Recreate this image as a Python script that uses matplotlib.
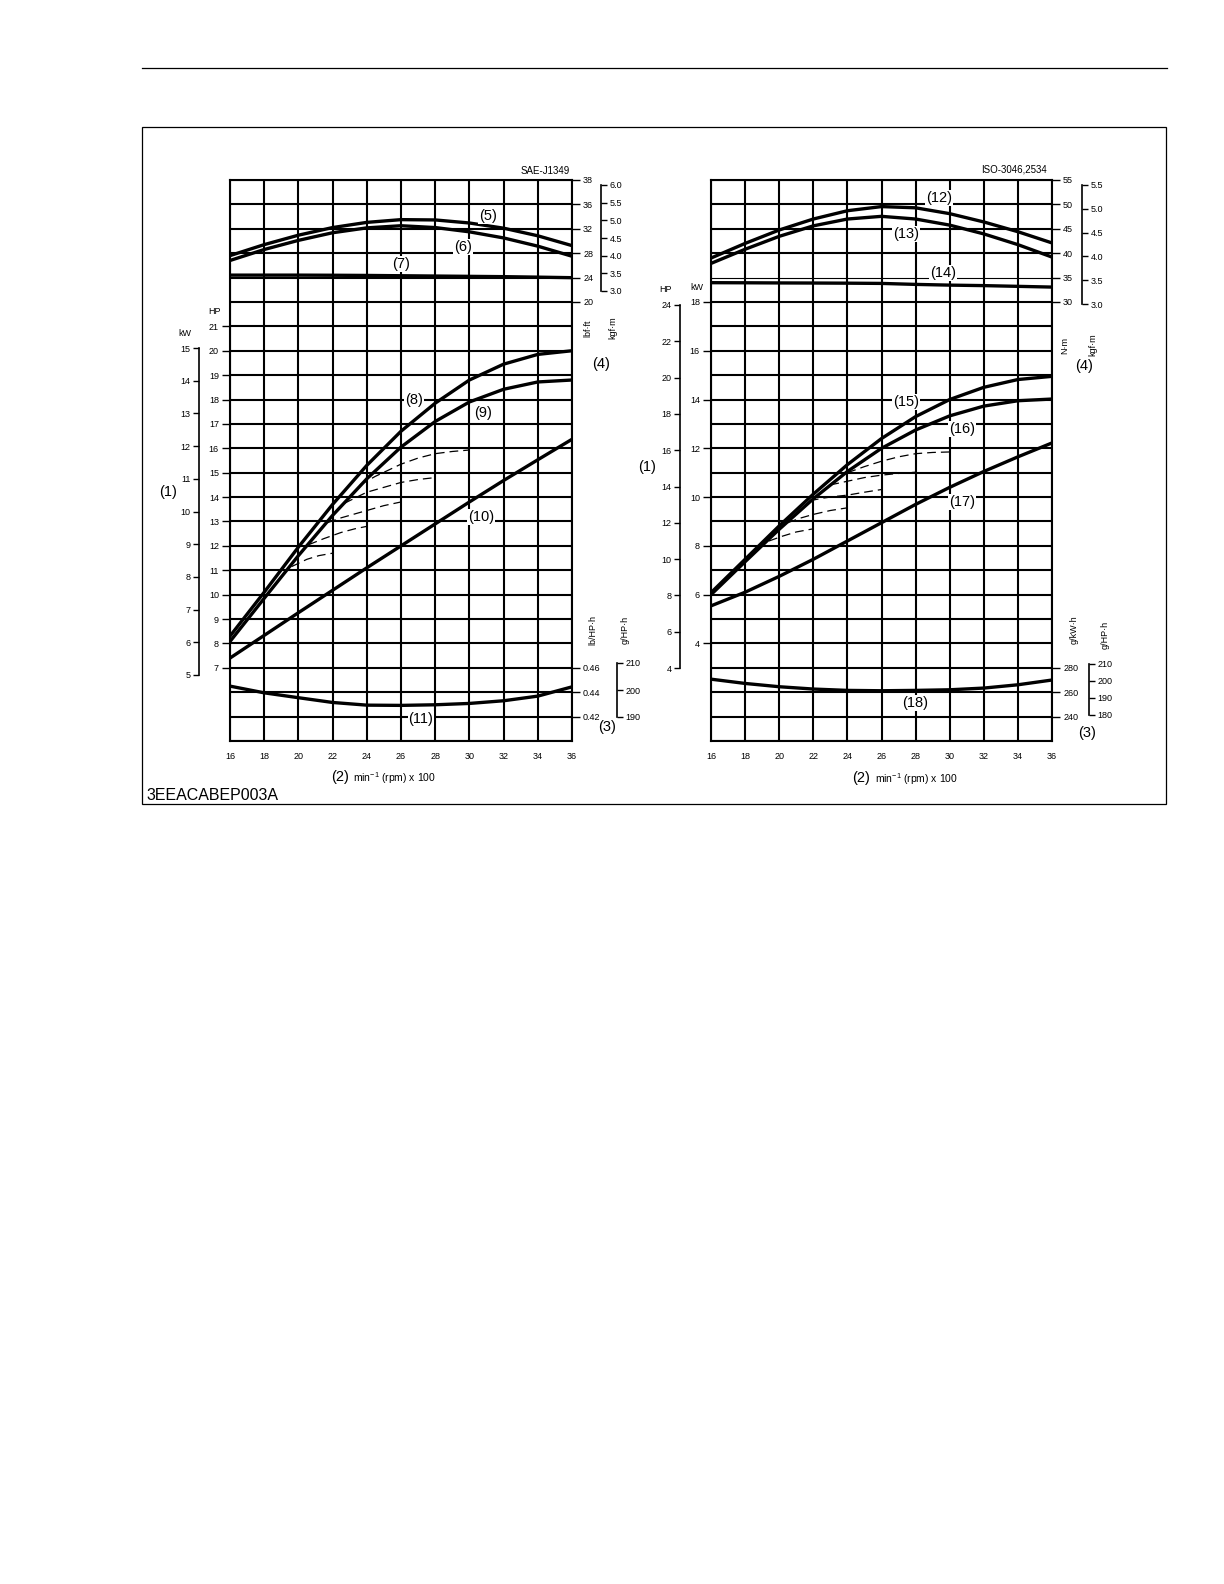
import matplotlib
matplotlib.use("Agg")
import matplotlib.pyplot as plt
from matplotlib.patches import Rectangle
from matplotlib.lines import Line2D

plt.rcParams['font.family'] = ['Liberation Sans', 'DejaVu Sans']
plt.rcParams['mathtext.fontset'] = 'custom'
plt.rcParams['mathtext.rm'] = 'Liberation Sans'

W, H = 1224, 1584

# ---- data ----
rpm = [16, 18, 20, 22, 24, 26, 28, 30, 32, 34, 36]

# SAE-J1349 (left chart)
torque5_lbf = [27.6, 29.4, 30.95, 32.2, 33.05, 33.5, 33.45, 32.95, 32.1, 30.85, 29.24]
torque6_lbf = [26.8, 28.6, 30.1, 31.35, 32.15, 32.5, 32.2, 31.5, 30.5, 29.15, 27.5]
torque7_lbf = [24.4, 24.4, 24.4, 24.38, 24.35, 24.3, 24.25, 24.2, 24.15, 24.07, 23.98]
power8_hp = [8.3, 10.1, 11.95, 13.7, 15.3, 16.7, 17.85, 18.8, 19.45, 19.85, 20.0]
power9_hp = [8.08, 9.85, 11.6, 13.25, 14.75, 16.05, 17.1, 17.9, 18.42, 18.72, 18.8]
power10_hp = [7.4, 8.33, 9.26, 10.18, 11.1, 12.0, 12.9, 13.8, 14.68, 15.53, 16.37]
fuel11_lb = [0.445, 0.4395, 0.4355, 0.4316, 0.4294, 0.4292, 0.4297, 0.4308, 0.433, 0.4368, 0.4444]
# governor (dashed) branches, rpm x100 and HP
dash_left = [
    ([19.6, 20.5, 21.2, 22.0], [11.15, 11.45, 11.6, 11.7]),
    ([20.6, 21.5, 22.5, 23.3, 24.0], [12.05, 12.3, 12.55, 12.7, 12.8]),
    ([21.7, 22.5, 24.0, 25.0, 26.0], [12.95, 13.15, 13.45, 13.65, 13.8]),
    ([22.7, 24.0, 25.0, 26.0, 27.0, 28.0], [13.75, 14.2, 14.4, 14.6, 14.72, 14.8]),
    ([23.6, 24.5, 26.0, 27.0, 28.0, 29.0, 30.0], [14.5, 14.85, 15.35, 15.6, 15.78, 15.87, 15.93]),
]

# ISO-3046,2534 (right chart)
torque12_nm = [39.0, 42.0, 44.75, 47.0, 48.7, 49.55, 49.3, 48.1, 46.4, 44.4, 42.1]
torque13_nm = [37.9, 40.8, 43.45, 45.6, 47.0, 47.55, 47.0, 45.75, 43.95, 41.75, 39.2]
torque14_nm = [33.95, 33.93, 33.9, 33.88, 33.85, 33.8, 33.6, 33.45, 33.35, 33.2, 33.05]
power15_kw = [6.08, 7.45, 8.82, 10.12, 11.33, 12.4, 13.3, 14.0, 14.5, 14.82, 14.95]
power16_kw = [6.0, 7.35, 8.68, 9.93, 11.05, 12.0, 12.75, 13.33, 13.73, 13.95, 14.02]
power17_kw = [5.54, 6.1, 6.75, 7.45, 8.2, 8.95, 9.7, 10.4, 11.05, 11.65, 12.22]
fuel18_g = [270.7, 267.2, 264.5, 262.6, 261.5, 261.2, 261.5, 262.0, 263.4, 266.1, 270.0]
dash_right = [
    ([19.4, 20.2, 21.0, 22.0], [8.2, 8.4, 8.57, 8.7]),
    ([20.5, 21.3, 22.0, 23.0, 24.0], [8.95, 9.15, 9.29, 9.45, 9.56]),
    ([21.8, 22.5, 23.2, 24.0, 25.0, 26.0], [9.85, 9.95, 10.02, 10.08, 10.2, 10.31]),
    ([23.0, 24.0, 25.0, 26.0, 27.0, 28.0], [10.5, 10.65, 10.8, 10.9, 10.97, 11.02]),
    ([24.0, 25.0, 26.0, 27.0, 28.0, 29.0, 30.0], [11.0, 11.25, 11.47, 11.65, 11.78, 11.83, 11.85]),
]

rpm_ticks = list(range(16, 37, 2))
hp_ticks_left = list(range(7, 22))
kw_ticks_left = list(range(5, 16))
lbf_ticks = [20, 24, 28, 32, 36, 40]
lbf_labels = ['20', '24', '28', '32', '36', '38']
kgfm_ticks_left = [3.0, 3.5, 4.0, 4.5, 5.0, 5.5, 6.0]
lbhph_ticks = [0.42, 0.44, 0.46]
ghph_ticks_left = [190, 200, 210]
kw_ticks_right = list(range(4, 19, 2))
hp_ticks_right = list(range(4, 25, 2))
nm_ticks = [30, 35, 40, 45, 50, 55]
kgfm_ticks_right = [3.0, 3.5, 4.0, 4.5, 5.0, 5.5]
gkwh_ticks = [240, 260, 280]
ghph_ticks_right = [180, 190, 200, 210]

fig = plt.figure(figsize=(12.24, 15.84), dpi=100)


def fx(px):
    return px / W


def fy(py):
    return 1 - py / H


def ptext(x, y, s, size=6.5, **kw):
    kw.setdefault('ha', 'center')
    kw.setdefault('va', 'center')
    return fig.text(fx(x), fy(y), s, fontsize=size, **kw)


def curve_label(x, y, s):
    ptext(x, y, s, size=10.5,
          bbox=dict(facecolor='white', edgecolor='none', pad=0.6), zorder=10)


def main_axes(left, right):
    ax = fig.add_axes([fx(left), fy(741), (right - left) / W, (741 - 180) / H])
    ax.set_xlim(16, 36)
    ax.set_ylim(0, 23)
    ax.set_xticks(rpm_ticks)
    ax.set_yticks(range(24))
    ax.grid(True, color='black', lw=1.5)
    ax.tick_params(axis='x', length=0, pad=8, labelsize=6.5)
    for s in ax.spines.values():
        s.set_linewidth(1.5)
    return ax


def hide_grid_ticks(ax):
    # twinx() turns the left ticks back on, so switch them off afterwards
    ax.tick_params(axis='y', left=False, labelleft=False, right=False, labelright=False)


def twin(ax, lo, hi, ticks=None, labels=None, side='right'):
    t = ax.twinx()
    t.set_ylim(lo, hi)
    for s in t.spines.values():
        s.set_visible(False)
    if ticks is None:
        t.set_yticks([])
    else:
        t.set_yticks(ticks)
        if labels is not None:
            t.set_yticklabels(labels)
        on_left = side == 'left'
        t.tick_params(axis='y', left=on_left, labelleft=on_left,
                      right=not on_left, labelright=not on_left,
                      direction='out', length=6, width=1, labelsize=6.5, pad=2)
    return t


def bracket(x, ytop, ybot, lo, hi, ticks, side, fmt='{:g}'):
    b = fig.add_axes([fx(x), fy(ybot), 0.0001, (ybot - ytop) / H])
    b.set_ylim(lo, hi)
    b.set_xticks([])
    b.patch.set_visible(False)
    for k, s in b.spines.items():
        s.set_visible(k == side)
        s.set_linewidth(1.2)
    b.set_yticks(ticks)
    b.set_yticklabels([fmt.format(v) for v in ticks])
    on_left = side == 'left'
    b.tick_params(axis='y', left=on_left, labelleft=on_left,
                  right=not on_left, labelright=not on_left,
                  direction='out', length=4, width=1, labelsize=6.5, pad=2)
    return b


# page rule and frame
fig.add_artist(Line2D([fx(142), fx(1167)], [fy(68), fy(68)], color='black', lw=0.9))
fig.add_artist(Rectangle((fx(142), fy(804)), fx(1166) - fx(142), fy(127) - fy(804),
                         fill=False, lw=0.9, edgecolor='black'))

# ---------------- left chart ----------------
axL = main_axes(230, 572)
pL = twin(axL, 4, 27, hp_ticks_left, side='left')
tL = twin(axL, -52, 40, lbf_ticks, lbf_labels, side='right')
fL = twin(axL, 0.40, 0.86, lbhph_ticks, [f'{v:.2f}' for v in lbhph_ticks], side='right')
hide_grid_ticks(axL)

for y in (torque5_lbf, torque6_lbf, torque7_lbf):
    tL.plot(rpm, y, color='black', lw=2.4, solid_joinstyle='round')
for y in (power8_hp, power9_hp, power10_hp):
    pL.plot(rpm, y, color='black', lw=2.4, solid_joinstyle='round')
for xs, ys in dash_left:
    pL.plot(xs, ys, color='black', lw=0.9, dashes=(7, 4))
fL.plot(rpm, fuel11_lb, color='black', lw=2.4, solid_joinstyle='round')

bracket(199, 348, 675, 5, 15, kw_ticks_left, 'left')
bracket(601, 185, 291, 3.0, 6.0, kgfm_ticks_left, 'right', '{:.1f}')
bracket(617, 663, 717, 190, 210, ghph_ticks_left, 'right')

ptext(545, 171, 'SAE-J1349', size=7)
ptext(215, 312, 'HP', size=6.5)
ptext(185, 333, 'kW', size=6.5)
ptext(168, 492, '(1)', size=10.5)
ptext(588, 328, 'lbf·ft', size=6.5, rotation=90)
ptext(613, 328, 'kgf·m', size=6.5, rotation=90)
ptext(601, 364, '(4)', size=10.5)
ptext(593, 630, 'lb/HP·h', size=6.5, rotation=90)
ptext(625, 630, 'g/HP·h', size=6.5, rotation=90)
ptext(607, 727, '(3)', size=10.5)
ptext(340, 777, '(2)', size=10.5)
ptext(353, 778, r'min$^{\mathregular{-1}}$ (rpm) x 100', size=7.5, ha='left')

curve_label(488, 216, '(5)')
curve_label(463, 247, '(6)')
curve_label(401, 264, '(7)')
curve_label(414, 400, '(8)')
curve_label(483, 413, '(9)')
curve_label(481, 517, '(10)')
curve_label(421, 719, '(11)')

# ---------------- right chart ----------------
axR = main_axes(711, 1052)
# the 35 N·m grid line is drawn thin in the original
axR.get_ygridlines()[19].set_linewidth(0.8)
kR = twin(axR, 0, 23, kw_ticks_right, side='left')
tR = twin(axR, -60, 55, nm_ticks, side='right')
gR = twin(axR, 220, 680, gkwh_ticks, side='right')
hide_grid_ticks(axR)

for y in (torque12_nm, torque13_nm, torque14_nm):
    tR.plot(rpm, y, color='black', lw=2.4, solid_joinstyle='round')
for y in (power15_kw, power16_kw, power17_kw):
    kR.plot(rpm, y, color='black', lw=2.4, solid_joinstyle='round')
for xs, ys in dash_right:
    kR.plot(xs, ys, color='black', lw=0.9, dashes=(7, 4))
gR.plot(rpm, fuel18_g, color='black', lw=2.4, solid_joinstyle='round')

bracket(680, 305, 668, 4, 24, hp_ticks_right, 'left')
bracket(1082, 185, 304, 3.0, 5.5, kgfm_ticks_right, 'right', '{:.1f}')
bracket(1089, 664, 715, 180, 210, ghph_ticks_right, 'right')

ptext(1014, 170, 'ISO-3046,2534', size=7)
ptext(666, 290, 'HP', size=6.5)
ptext(697, 287, 'kW', size=6.5)
ptext(647, 467, '(1)', size=10.5)
ptext(1065, 345, 'N·m', size=6.5, rotation=90)
ptext(1093, 345, 'kgf·m', size=6.5, rotation=90)
ptext(1084, 366, '(4)', size=10.5)
ptext(1074, 630, 'g/kW·h', size=6.5, rotation=90)
ptext(1105, 635, 'g/HP·h', size=6.5, rotation=90)
ptext(1087, 733, '(3)', size=10.5)
ptext(861, 778, '(2)', size=10.5)
ptext(875, 779, r'min$^{\mathregular{-1}}$ (rpm) x 100', size=7.5, ha='left')

curve_label(939, 198, '(12)')
curve_label(906, 234, '(13)')
curve_label(943, 273, '(14)')
curve_label(906, 402, '(15)')
curve_label(962, 429, '(16)')
curve_label(962, 502, '(17)')
curve_label(915, 703, '(18)')

ptext(146, 796, '3EEACABEP003A', size=11.5, ha='left')

fig.savefig('out.png', dpi=100)
